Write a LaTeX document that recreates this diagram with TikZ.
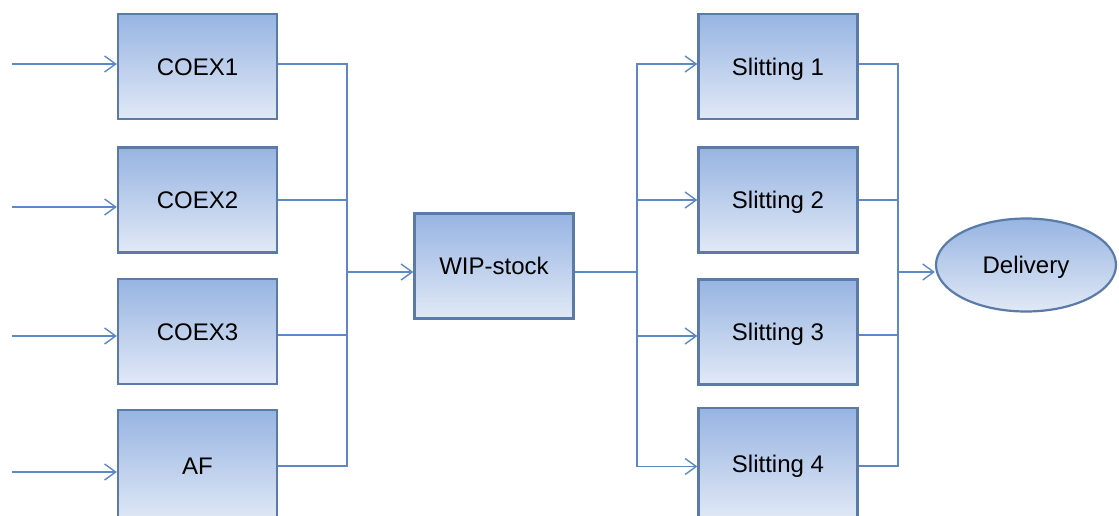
\documentclass[tikz,border=0pt]{standalone}
\usepackage{fontspec}
\setmainfont{Liberation Sans}
\usetikzlibrary{arrows.meta,shapes.geometric}
\definecolor{edge}{HTML}{5A7AA8}
\definecolor{wire}{HTML}{5D88C4}
\definecolor{filltop}{HTML}{97B4E2}
\definecolor{fillbot}{HTML}{E1E9F6}

\begin{document}
\begin{tikzpicture}[x=1pt,y=-1pt,
  label text/.style={font=\fontsize{24}{28}\selectfont, text height=17.2pt, text depth=0pt},
  block/.style={draw=edge, line width=2.4pt, top color=filltop, bottom color=fillbot,
    minimum width=159pt, minimum height=105pt, inner sep=0pt, label text},
  tallblock/.style={block, minimum height=112pt},
  oval/.style={ellipse, draw=edge, line width=2.2pt, top color=filltop, bottom color=fillbot,
    minimum width=180pt, minimum height=93pt, inner sep=0pt, label text},
  wireline/.style={draw=wire, line width=1.5pt},
  flow/.style={wireline, -{Straight Barb[length=11pt,width=16pt,line width=1.4pt]}}]

\useasboundingbox (0,0) rectangle (1119,515);
\clip (0,0) rectangle (1119,515);

% extruders and the AF line
\node[block] (c1) at (197.5,66.5) {COEX1};
\node[block] (c2) at (197.5,200) {COEX2};
\node[block] (c3) at (197.5,331.5) {COEX3};
\node[tallblock] (af) at (197.5,466) {AF};

% intermediate stock
\node[block] (wip) at (494,266) {WIP-stock};

% slitters
\node[block] (s1) at (778,66.5) {Slitting 1};
\node[block] (s2) at (778,200) {Slitting 2};
\node[block] (s3) at (778,332) {Slitting 3};
\node[tallblock] (s4) at (778,464) {Slitting 4};

% delivery
\node[oval] (del) at (1026,265) {Delivery};

% incoming feeds
\coordinate (f1) at (12,64);
\coordinate (f2) at (12,207);
\coordinate (f3) at (12,336);
\coordinate (f4) at (12,472);
\draw[flow] (f1) -- (f1 -| c1.west);
\draw[flow] (f2) -- (f2 -| c2.west);
\draw[flow] (f3) -- (f3 -| c3.west);
\draw[flow] (f4) -- (f4 -| af.west);

% collector into WIP-stock
\coordinate (jl) at (347,272);
\draw[wireline] ([yshift=2.5pt]c1.east) -| (jl);
\draw[wireline] (c2.east) -| (jl);
\draw[wireline] ([yshift=-3.5pt]c3.east) -| (jl);
\draw[wireline] (af.east) -| (jl);
\draw[flow] (jl) -- (jl -| wip.west);

% distribution to the slitters
\coordinate (jm) at (637,272);
\draw[wireline] (jm -| wip.east) -- (jm);
\draw[flow] (jm) |- ([yshift=2.5pt]s1.west);
\draw[flow] (jm) |- (s2.west);
\draw[flow] (jm) |- ([yshift=-4pt]s3.west);
\draw[flow] (jm) |- ([yshift=-2.5pt]s4.west);

% collector into delivery
\coordinate (jr) at (898,272);
\draw[wireline] ([yshift=2.5pt]s1.east) -| (jr);
\draw[wireline] (s2.east) -| (jr);
\draw[wireline] ([yshift=-3pt]s3.east) -| (jr);
\draw[wireline] ([yshift=-2pt]s4.east) -| (jr);
\draw[flow] (jr) -- (jr -| del.west);

\end{tikzpicture}
\end{document}
